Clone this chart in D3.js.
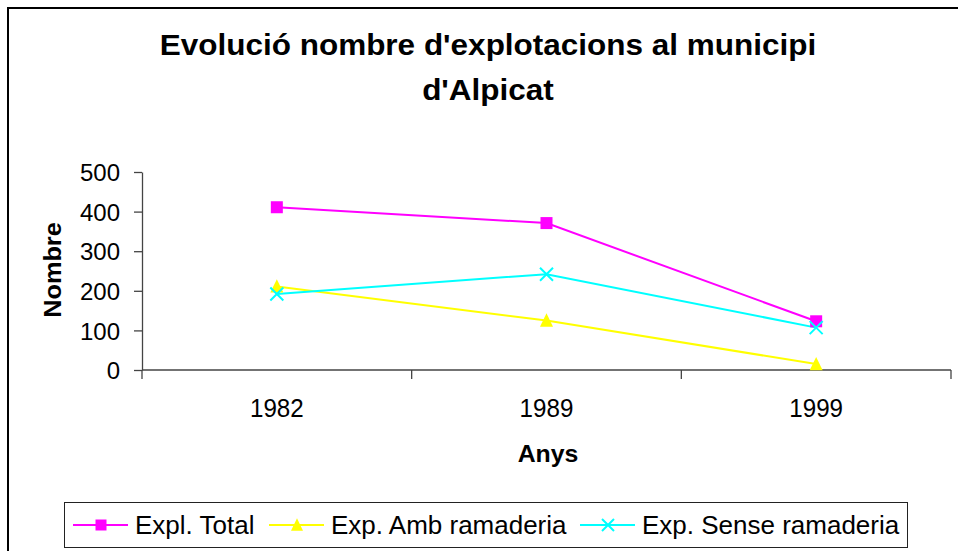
<!DOCTYPE html>
<html lang="ca">
<head>
<meta charset="UTF-8">
<title>Evolució nombre d'explotacions</title>
<script src="https://cdn.jsdelivr.net/npm/d3@7"></script>
<style>
    body { margin: 0; background: #fff; }
    text { font-family: "Liberation Sans", Arial, sans-serif; fill: #000; }
</style>
</head>
<body>
<div id="chart"></div>
<script>
// data
const years = ["1982", "1989", "1999"];
const total = [411, 371, 123];
const amb = [211, 125, 15];
const sense = [192, 242, 107];
const yTicks = [0, 100, 200, 300, 400, 500];

const series = [
    {name: "Expl. Total", values: total, color: "#ff00ff", marker: "square"},
    {name: "Exp. Amb ramaderia", values: amb, color: "#ffff00", marker: "triangle"},
    {name: "Exp. Sense ramaderia", values: sense, color: "#00ffff", marker: "cross"}
];

const W = 958, H = 551;
const svg = d3.select("#chart").append("svg")
    .attr("width", W).attr("height", H);

// outer chart frame (runs off the right and bottom)
svg.append("rect")
    .attr("x", 8).attr("y", 8)
    .attr("width", 1000).attr("height", 600)
    .attr("fill", "none").attr("stroke", "#000").attr("stroke-width", 2);

const plot = {left: 142, right: 951, top: 172, bottom: 370};

const x = d3.scaleBand(years, [plot.left, plot.right]);
const y = d3.scaleLinear([0, 500], [plot.bottom, plot.top]);

// title
const title = svg.append("text")
    .attr("text-anchor", "middle")
    .attr("transform", "translate(488,0) scale(1.05,1)")
    .style("font-size", "30px").style("font-weight", "bold");
title.append("tspan").attr("x", 0).attr("y", 55).text("Evolució nombre d'explotacions al municipi");
title.append("tspan").attr("x", 0).attr("y", 100).text("d'Alpicat");

// y axis
svg.append("g")
    .attr("transform", `translate(${plot.left},0)`)
    .call(d3.axisLeft(y).tickValues(yTicks).tickSize(8).tickSizeOuter(0))
    .call(g => g.selectAll("path, line").attr("stroke", "#444").attr("stroke-width", 1.3))
    .call(g => g.selectAll(".tick text")
        .attr("x", 0)
        .attr("dy", "0.36em")
        .attr("transform", "translate(-22,0)")
        .style("font-size", "24px"));

// x axis: ticks on category boundaries, labels at centres
const xAxis = svg.append("g")
    .attr("transform", `translate(0,${plot.bottom})`);
xAxis.append("line")
    .attr("x1", plot.left).attr("x2", plot.right)
    .attr("stroke", "#444").attr("stroke-width", 1.3);
xAxis.selectAll(".bound")
    .data(years.concat([null]))
    .join("line")
    .attr("x1", (d, i) => i < years.length ? x(d) : x(years[years.length - 1]) + x.bandwidth())
    .attr("x2", (d, i) => i < years.length ? x(d) : x(years[years.length - 1]) + x.bandwidth())
    .attr("y1", 0).attr("y2", 9)
    .attr("stroke", "#444").attr("stroke-width", 1.3);
xAxis.selectAll(".lab")
    .data(years)
    .join("text")
    .attr("text-anchor", "middle")
    .attr("transform", d => `translate(${x(d) + x.bandwidth() / 2},47) scale(0.93,1)`)
    .style("font-size", "26px")
    .text(d => d);

// axis titles
svg.append("text")
    .attr("text-anchor", "middle")
    .attr("transform", "translate(548,462) scale(1.08,1)")
    .style("font-size", "23px").style("font-weight", "bold")
    .text("Anys");
svg.append("text")
    .attr("text-anchor", "middle")
    .attr("transform", "translate(61,270) rotate(-90) scale(1.1,1)")
    .style("font-size", "23px").style("font-weight", "bold")
    .text("Nombre");

// markers
function drawMarker(g, type, color, size) {
    if (type === "square") {
        g.append("rect").attr("x", -size / 2).attr("y", -size / 2)
            .attr("width", size).attr("height", size).attr("fill", color);
    } else if (type === "triangle") {
        const h = size * 0.95;
        g.append("path")
            .attr("d", `M0,${-h / 2 - 1}L${size / 2},${h / 2}L${-size / 2},${h / 2}Z`)
            .attr("fill", color);
    } else {
        const s = size / 2;
        g.append("path")
            .attr("d", `M${-s},${-s}L${s},${s}M${-s},${s}L${s},${-s}`)
            .attr("stroke", color).attr("stroke-width", 2).attr("fill", "none");
    }
}

const line = d3.line()
    .x((d, i) => x(years[i]) + x.bandwidth() / 2)
    .y(d => y(d));

series.forEach(s => {
    svg.append("path")
        .datum(s.values)
        .attr("d", line)
        .attr("fill", "none")
        .attr("stroke", s.color)
        .attr("stroke-width", 2);
});
series.forEach(s => {
    s.values.forEach((v, i) => {
        const g = svg.append("g")
            .attr("transform", `translate(${x(years[i]) + x.bandwidth() / 2},${y(v)})`);
        drawMarker(g, s.marker, s.color, s.marker === "square" ? 12 : 13);
    });
});

// legend
svg.append("rect")
    .attr("x", 64.5).attr("y", 502.5)
    .attr("width", 843).attr("height", 45)
    .attr("fill", "#fff").attr("stroke", "#222").attr("stroke-width", 1);

const legendX = [73, 269, 580];
series.forEach((s, i) => {
    const g = svg.append("g").attr("transform", `translate(${legendX[i]},525)`);
    g.append("line").attr("x1", 0).attr("x2", 55)
        .attr("stroke", s.color).attr("stroke-width", 2);
    const m = g.append("g").attr("transform", "translate(28,0)");
    drawMarker(m, s.marker, s.color, s.marker === "square" ? 11 : 12);
    g.append("text")
        .attr("transform", "translate(62,9) scale(1.04,1)")
        .style("font-size", "25px")
        .text(s.name);
});
</script>
</body>
</html>
